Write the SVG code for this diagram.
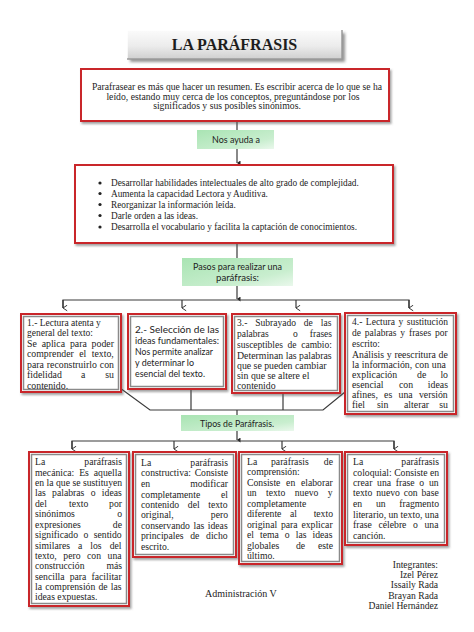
<svg xmlns="http://www.w3.org/2000/svg" width="474" height="632" viewBox="0 0 474 632">
<defs>
<linearGradient id="gTitle" x1="0" y1="0" x2="0" y2="1">
<stop offset="0" stop-color="#fbfbfb"/>
<stop offset="0.55" stop-color="#ececec"/>
<stop offset="1" stop-color="#cfcfcf"/>
</linearGradient>
<linearGradient id="gGreen" x1="0" y1="0" x2="1" y2="1">
<stop offset="0" stop-color="#a9e4b3"/>
<stop offset="0.7" stop-color="#c9eecf"/>
<stop offset="1" stop-color="#eaf8ec"/>
</linearGradient>
<filter id="sh" x="-10%" y="-10%" width="125%" height="130%">
<feDropShadow dx="1.5" dy="2" stdDeviation="1.2" flood-color="#555" flood-opacity="0.55"/>
</filter>
<filter id="shT" x="-10%" y="-20%" width="125%" height="160%">
<feDropShadow dx="3" dy="3" stdDeviation="1.5" flood-color="#666" flood-opacity="0.7"/>
</filter>
<marker id="aOpen" viewBox="0 0 10 10" refX="5" refY="9" markerWidth="7" markerHeight="7" orient="auto-start-reverse" markerUnits="userSpaceOnUse">
<path d="M1,3 L5,9 L9,3" fill="none" stroke="#333" stroke-width="1.4"/>
</marker>
<marker id="aSolid" viewBox="0 0 10 10" refX="5" refY="9" markerWidth="5" markerHeight="6" orient="auto-start-reverse" markerUnits="userSpaceOnUse">
<path d="M0,2 L5,9 L10,2 Z" fill="#222"/>
</marker>
</defs>
<style>
.ser{font-family:"Liberation Serif","Times New Roman",serif;fill:#1d1d1d}
.sans{font-family:Lato,"Open Sans",sans-serif;fill:#1d1d1d}
.t95{font-size:9.5px}
.t98{font-size:9.8px}
.t97{font-size:9.7px}
.s9{font-size:9px}
.e{text-anchor:end}
.conn{stroke:#3a3a3a;stroke-width:1.2;fill:none}
.outer{fill:#fff;stroke:#c9252c;stroke-width:2}
.inner{fill:none;stroke:#8a8a8a;stroke-width:1.5}
.green{fill:url(#gGreen)}
</style>
<rect width="474" height="632" fill="#fff"/>

<g id="connectors">
<line class="conn" x1="237" y1="121" x2="237" y2="130"/>
<line class="conn" x1="237" y1="149" x2="237" y2="163" marker-end="url(#aSolid)"/>
<line class="conn" x1="237" y1="244" x2="237" y2="258"/>
<line class="conn" x1="237" y1="286" x2="237" y2="299" marker-end="url(#aSolid)"/>
<polyline class="conn" points="63,308 63,300 409,300 409,308"/>
<line class="conn" x1="63" y1="300" x2="63" y2="308" marker-end="url(#aOpen)"/>
<line class="conn" x1="182" y1="300" x2="182" y2="308" marker-end="url(#aOpen)"/>
<line class="conn" x1="296" y1="300" x2="296" y2="308" marker-end="url(#aOpen)"/>
<line class="conn" x1="409" y1="300" x2="409" y2="308" marker-end="url(#aOpen)"/>
<polyline class="conn" points="120,388 150,410 323,410 345,392"/>
<line class="conn" x1="191" y1="389" x2="191" y2="410"/>
<line class="conn" x1="283" y1="393" x2="283" y2="410"/>
<line class="conn" x1="237" y1="410" x2="237" y2="415"/>
<line class="conn" x1="237" y1="431" x2="237" y2="440" marker-end="url(#aSolid)"/>
<polyline class="conn" points="72,449 72,441 394,441 394,449"/>
<line class="conn" x1="72" y1="441" x2="72" y2="449" marker-end="url(#aOpen)"/>
<line class="conn" x1="174" y1="441" x2="174" y2="449" marker-end="url(#aOpen)"/>
<line class="conn" x1="282" y1="441" x2="282" y2="449" marker-end="url(#aOpen)"/>
<line class="conn" x1="394" y1="441" x2="394" y2="449" marker-end="url(#aOpen)"/>
</g>

<g id="title">
<rect x="127" y="30" width="215" height="29" fill="url(#gTitle)" filter="url(#shT)"/>
<path d="M127,59 L127,30 L342,30" fill="none" stroke="#ffffff" stroke-width="1.5"/>
<path d="M342,30 L342,59 L127,59" fill="none" stroke="#9b9b9b" stroke-width="1.5"/>
<text class="ser" x="234.5" y="49.5" text-anchor="middle" font-size="16" font-weight="bold" fill="#111">LA PARÁFRASIS</text>
</g>

<g id="intro">
<rect class="outer" x="81" y="69" width="308" height="52" filter="url(#sh)"/>
<text class="ser" x="237" y="90" text-anchor="middle" font-size="9.7" textLength="290" lengthAdjust="spacingAndGlyphs">Parafrasear es más que hacer un resumen. Es escribir acerca de lo que se ha</text>
<text class="ser" x="233" y="99.5" text-anchor="middle" font-size="9.7">leído, estando muy cerca de los conceptos, preguntándose por los</text>
<text class="ser" x="227" y="109" text-anchor="middle" font-size="9.7">significados y sus posibles sinónimos.</text>
</g>

<g id="nosAyuda">
<rect class="green" x="197" y="130" width="77" height="19"/>
<text class="sans s9" x="212" y="142.5" textLength="48" lengthAdjust="spacingAndGlyphs">Nos ayuda a</text>
</g>

<g id="list">
<rect class="outer" x="75" y="165" width="318" height="78" filter="url(#sh)"/>
<g class="ser" font-size="9.3">
<circle cx="100" cy="183" r="1.6" fill="#222"/>
<circle cx="100" cy="193.5" r="1.6" fill="#222"/>
<circle cx="100" cy="204.5" r="1.6" fill="#222"/>
<circle cx="100" cy="215.5" r="1.6" fill="#222"/>
<circle cx="100" cy="227" r="1.6" fill="#222"/>
<text x="111" y="186">Desarrollar habilidades intelectuales de alto grado de complejidad.</text>
<text x="111" y="196.5">Aumenta la capacidad Lectora y Auditiva.</text>
<text x="111" y="207.5">Reorganizar la información leída.</text>
<text x="111" y="218.5">Darle orden a las ideas.</text>
<text x="111" y="230">Desarrolla el vocabulario y facilita la captación de conocimientos.</text>
</g>
</g>

<g id="pasos">
<rect class="green" x="182" y="258" width="111" height="28"/>
<text class="sans s9" x="193" y="270" textLength="89" lengthAdjust="spacingAndGlyphs">Pasos para realizar una</text>
<text class="sans s9" x="216" y="281" textLength="43" lengthAdjust="spacingAndGlyphs">paráfrasis:</text>
</g>

<g id="paso1">
<rect class="outer" x="21" y="314" width="100" height="78" filter="url(#sh)"/>
<rect class="inner" x="23.5" y="316.5" width="95" height="73"/>
<text class="ser t95" x="27" y="326">1.- Lectura atenta y</text>
<text class="ser t95" x="27" y="336">general del texto:</text>
<text class="ser t98" x="27" y="346.5" style="word-spacing:2.4px">Se aplica para poder</text>
<text class="ser t98" x="27" y="357" style="word-spacing:3px">comprender el texto,</text>
<text class="ser t98" x="27" y="367.5" style="word-spacing:0.5px">para reconstruirlo con</text>
<text class="ser t98" x="27" y="378">fidelidad</text>
<text class="ser t98" x="81" y="378">a</text>
<text class="ser t98 e" x="114" y="378">su</text>
<text class="ser t98" x="27" y="388.5">contenido.</text>
</g>

<g id="paso2">
<rect class="outer" x="128" y="314" width="98" height="75" filter="url(#sh)"/>
<rect class="inner" x="130.5" y="316.5" width="93" height="70"/>
<text class="sans s9" x="135" y="332.5" textLength="84" lengthAdjust="spacingAndGlyphs">2.- Selección de las</text>
<text class="sans s9" x="135" y="343.5" textLength="84" lengthAdjust="spacingAndGlyphs">ideas fundamentales:</text>
<text class="sans s9" x="135" y="354.5" textLength="78" lengthAdjust="spacingAndGlyphs">Nos permite analizar</text>
<text class="sans s9" x="135" y="365.5" textLength="59" lengthAdjust="spacingAndGlyphs">y determinar lo</text>
<text class="sans s9" x="135" y="376.5" textLength="70" lengthAdjust="spacingAndGlyphs">esencial del texto.</text>
</g>

<g id="paso3">
<rect class="outer" x="232" y="314" width="108" height="79" filter="url(#sh)"/>
<rect class="inner" x="234.5" y="316.5" width="103" height="74"/>
<text class="ser t95" x="237" y="326" style="word-spacing:5.6px">3.- Subrayado de las</text>
<text class="ser t95" x="237" y="337">palabras</text>
<text class="ser t95" x="293" y="337">o</text>
<text class="ser t95 e" x="332" y="337">frases</text>
<text class="ser t95" x="237" y="347.5" style="word-spacing:2.3px">susceptibles de cambio:</text>
<text class="ser t98" x="237" y="358.5">Determinan las palabras</text>
<text class="ser t98" x="237" y="368.5">que se pueden cambiar</text>
<text class="ser t98" x="237" y="378.5">sin que se altere el</text>
<text class="ser t98" x="237" y="389">contenido</text>
</g>

<g id="paso4">
<rect class="outer" x="345" y="313" width="111" height="101" filter="url(#sh)"/>
<rect class="inner" x="347.5" y="315.5" width="106" height="96"/>
<text class="ser t95" x="352" y="325" style="word-spacing:1.2px">4.- Lectura y sustitución</text>
<text class="ser t95" x="352" y="336" style="word-spacing:1.5px">de palabras y frases por</text>
<text class="ser t95" x="352" y="347">escrito:</text>
<text class="ser t98" x="352" y="357.5" style="word-spacing:0.3px">Análisis y reescritura de</text>
<text class="ser t98" x="352" y="367.5" style="word-spacing:0.3px">la información, con una</text>
<text class="ser t98" x="352" y="378">explicación</text>
<text class="ser t98" x="417" y="378">de</text>
<text class="ser t98 e" x="448" y="378">lo</text>
<text class="ser t98" x="352" y="388">esencial</text>
<text class="ser t98" x="399" y="388">con</text>
<text class="ser t98 e" x="448" y="388">ideas</text>
<text class="ser t98" x="352" y="398" style="word-spacing:3.8px">afines, es una versión</text>
<text class="ser t98" x="352" y="408">fiel</text>
<text class="ser t98" x="377" y="408">sin</text>
<text class="ser t98" x="404" y="408">alterar</text>
<text class="ser t98 e" x="448" y="408">su</text>
</g>

<g id="tipos">
<rect class="green" x="181" y="415" width="113" height="16"/>
<text class="sans s9" x="200" y="426.5" textLength="74" lengthAdjust="spacingAndGlyphs">Tipos de Paráfrasis.</text>
</g>

<g id="tipo1">
<rect class="outer" x="29" y="452" width="100" height="154" filter="url(#sh)"/>
<rect class="inner" x="31.5" y="454.5" width="95" height="149"/>
<g class="ser t97">
<text x="35" y="465">La</text><text class="e" x="122" y="465">paráfrasis</text>
<text x="35" y="475.5" style="word-spacing:2.5px">mecánica: Es aquella</text>
<text x="35" y="486">en la que se sustituyen</text>
<text x="35" y="496" style="word-spacing:3.9px">las palabras o ideas</text>
<text x="35" y="507">del</text><text x="69" y="507">texto</text><text class="e" x="122" y="507">por</text>
<text x="35" y="517">sinónimos</text><text class="e" x="122" y="517">o</text>
<text x="35" y="527.5">expresiones</text><text class="e" x="122" y="527.5">de</text>
<text x="35" y="538" style="word-spacing:3px">significado o sentido</text>
<text x="35" y="548.5" style="word-spacing:5.6px">similares a los del</text>
<text x="35" y="559" style="word-spacing:4.1px">texto, pero con una</text>
<text x="35" y="569">construcción</text><text class="e" x="122" y="569">más</text>
<text x="35" y="579.5" style="word-spacing:2.7px">sencilla para facilitar</text>
<text x="35" y="590" style="word-spacing:0.8px">la comprensión de las</text>
<text x="35" y="600">ideas expuestas.</text>
</g>
</g>

<g id="tipo2">
<rect class="outer" x="133" y="452" width="103" height="105" filter="url(#sh)"/>
<rect class="inner" x="135.5" y="454.5" width="98" height="100"/>
<g class="ser t97">
<text x="141" y="466">La</text><text class="e" x="228" y="466">paráfrasis</text>
<text x="141" y="476">constructiva:</text><text class="e" x="228" y="476">Consiste</text>
<text x="141" y="487">en</text><text class="e" x="228" y="487">modificar</text>
<text x="141" y="497.5">completamente</text><text class="e" x="228" y="497.5">el</text>
<text x="141" y="507.5" style="word-spacing:6.2px">contenido del texto</text>
<text x="141" y="518">original,</text><text class="e" x="228" y="518">pero</text>
<text x="141" y="528.5" style="word-spacing:1.1px">conservando las ideas</text>
<text x="141" y="539" style="word-spacing:4.3px">principales de dicho</text>
<text x="141" y="549.5">escrito.</text>
</g>
</g>

<g id="tipo3">
<rect class="outer" x="239" y="452" width="103" height="112" filter="url(#sh)"/>
<rect class="inner" x="241.5" y="454.5" width="98" height="107"/>
<g class="ser t97">
<text x="247" y="465">La</text><text x="271" y="465">paráfrasis</text><text class="e" x="333" y="465">de</text>
<text x="247" y="475">comprensión:</text>
<text x="247" y="485.5" style="word-spacing:3.3px">Consiste en elaborar</text>
<text x="247" y="496" style="word-spacing:6.9px">un texto nuevo y</text>
<text x="247" y="507">completamente</text>
<text x="247" y="517">diferente</text><text x="290" y="517">al</text><text class="e" x="333" y="517">texto</text>
<text x="247" y="527.5" style="word-spacing:1.4px">original para explicar</text>
<text x="247" y="538" style="word-spacing:3.6px">el tema o las ideas</text>
<text x="247" y="548.5">globales</text><text x="296" y="548.5">de</text><text class="e" x="333" y="548.5">este</text>
<text x="247" y="558.5">último.</text>
</g>
</g>

<g id="tipo4">
<rect class="outer" x="345" y="452" width="102" height="93" filter="url(#sh)"/>
<rect class="inner" x="347.5" y="454.5" width="97" height="88"/>
<g class="ser t97">
<text x="353" y="465">La</text><text class="e" x="439" y="465">paráfrasis</text>
<text x="353" y="475.5">coloquial: Consiste en</text>
<text x="353" y="486" style="word-spacing:2.3px">crear una frase o un</text>
<text x="353" y="496" style="word-spacing:1.4px">texto nuevo con base</text>
<text x="353" y="507">en</text><text x="376" y="507">un</text><text class="e" x="439" y="507">fragmento</text>
<text x="353" y="517.5">literario, un texto, una</text>
<text x="353" y="528" style="word-spacing:4.2px">frase célebre o una</text>
<text x="353" y="538.5">canción.</text>
</g>
</g>

<g id="administracion">
<text class="ser" font-size="10" x="205" y="596.5">Administración V</text>
</g>

<g id="integrantes" class="ser" font-size="9.6" text-anchor="end">
<text x="438" y="567.5">Integrantes:</text>
<text x="438" y="577.5">Izel Pérez</text>
<text x="438" y="588">Issaily Rada</text>
<text x="438" y="598.5">Brayan Rada</text>
<text x="438" y="608.5">Daniel Hernández</text>
</g>
</svg>
